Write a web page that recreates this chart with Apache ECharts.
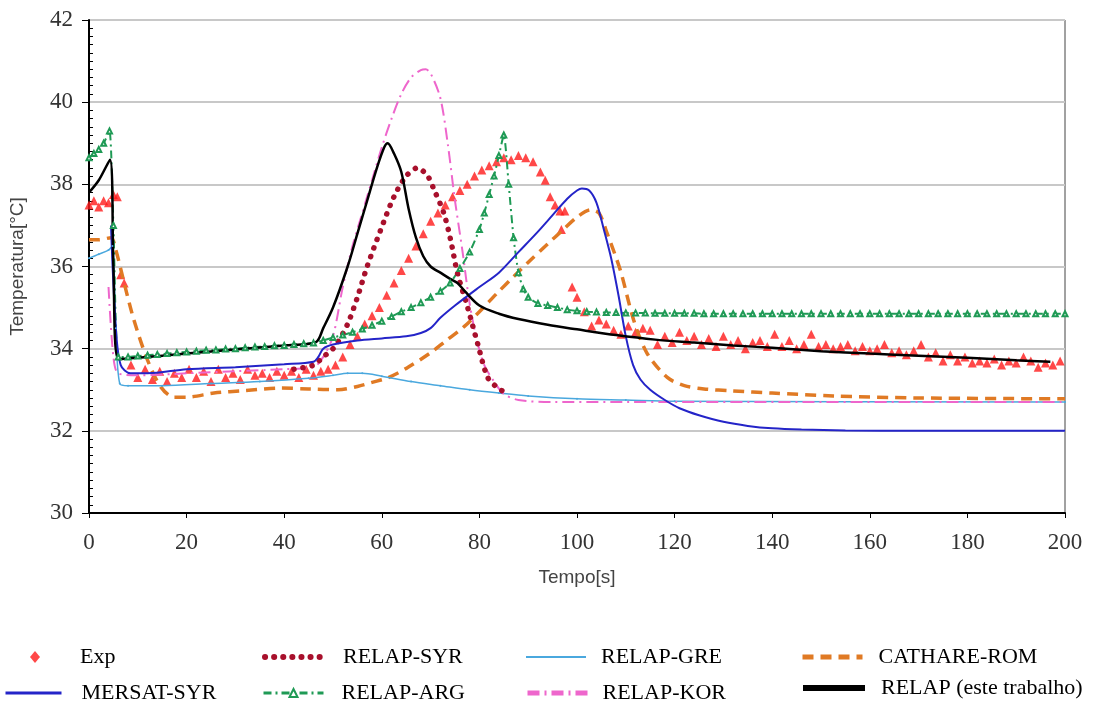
<!DOCTYPE html>
<html><head><meta charset="utf-8">
<script src="https://cdn.jsdelivr.net/npm/echarts@6/dist/echarts.min.js"></script>
<style>html,body{margin:0;padding:0;background:#fff}#c{width:1115px;height:708px}</style>
</head><body><div id="c"></div>
<script>
// ---- data: [time s, temperature °C] ----
var exp = [[0,37.5],[1,37.6],[2,37.45],[3,37.6],[4,37.55],[5,37.75],[5.8,37.7],[6.5,35.8],[7.2,35.6],[8.6,33.6],[10,33.3],[11.5,33.5],[13,33.25],[14.5,33.45],[16,33.2],[17.5,33.4],[19,33.3],[20.5,33.5],[22,33.3],[23.5,33.45],[25,33.2],[26.5,33.5],[28,33.3],[29.5,33.4],[31,33.25],[32.5,33.5],[34,33.35],[35.5,33.4],[37,33.3],[38.5,33.45],[40,33.35],[41.5,33.45],[43,33.3],[44.5,33.5],[46,33.35],[47.5,33.45],[49,33.5],[50.5,33.6],[52,33.8],[53.5,34.1],[55,34.3],[56.5,34.6],[58,34.8],[59.5,35.0],[61,35.3],[62.5,35.6],[64,35.9],[65.5,36.2],[67,36.5],[68.5,36.8],[70,37.1],[71.5,37.3],[73,37.5],[74.5,37.7],[76,37.85],[77.5,38.0],[79,38.2],[80.5,38.35],[82,38.45],[83.5,38.55],[85,38.65],[86.5,38.6],[88,38.7],[89.5,38.65],[91,38.55],[92.5,38.3],[93.5,38.1],[94.5,37.7],[95.5,37.5],[96.5,37.35],[97.5,37.35],[96.8,36.9],[99,35.5],[100,35.25],[101.5,34.9],[103,34.55],[104.5,34.7],[106,34.6],[107.5,34.45],[109,34.35],[110.5,34.55],[112,34.4],[113.5,34.5],[115,34.45],[116.5,34.1],[118,34.3],[119.5,34.15],[121,34.4],[122.5,34.2],[124,34.3],[125.5,34.1],[127,34.25],[128.5,34.05],[130,34.3],[131.5,34.1],[133,34.2],[134.5,34.0],[136,34.15],[137.5,34.2],[139,34.05],[140.5,34.35],[142,34.05],[143.5,34.2],[145,34.0],[146.5,34.1],[148,34.35],[149.5,34.05],[151,34.1],[152.5,34.0],[154,34.05],[155.5,34.1],[157,33.95],[158.5,34.05],[160,33.95],[161.5,34.0],[163,34.1],[164.5,33.9],[166,33.95],[167.5,33.85],[169,33.95],[170.5,34.1],[172,33.8],[173.5,33.9],[175,33.7],[176.5,33.85],[178,33.7],[179.5,33.8],[181,33.65],[182.5,33.7],[184,33.65],[185.5,33.75],[187,33.6],[188.5,33.7],[190,33.65],[191.5,33.8],[193,33.7],[194.5,33.55],[196,33.65],[197.5,33.6],[199,33.7]];

var mersatSyr = [[4.5,37.0],[5.5,34.5],[6.5,33.6],[8.5,33.4],[12,33.4],[20,33.5],[30,33.55],[40,33.62],[46,33.68],[47,33.8],[48,34.0],[50,34.1],[55,34.2],[60,34.25],[65,34.3],[68,34.38],[70,34.5],[72,34.75],[75,35.05],[80,35.5],[84,35.85],[88,36.35],[92,36.85],[95,37.25],[98,37.65],[100,37.85],[101,37.9],[102.5,37.85],[104,37.55],[105.5,36.9],[107,36.2],[108.5,35.3],[110,34.3],[111.5,33.6],[113,33.25],[115,33.0],[118,32.75],[121,32.55],[125,32.38],[130,32.22],[135,32.12],[140,32.06],[146,32.03],[155,32.01],[170,32.0],[200,32.0]];

var relapSyr = [[42,33.5],[46,33.6],[48,33.8],[50,34.0],[51,34.16],[53,34.6],[55,35.25],[57,36.0],[59.8,36.9],[62.5,37.7],[65,38.2],[67.3,38.4],[69.4,38.2],[70.6,37.9],[72.7,37.3],[74.1,36.65],[75.5,35.84],[77.6,35.0],[79.6,34.14],[81.7,33.3],[83.7,33.05],[85,32.95]];

var relapGre = [[0,36.2],[2,36.3],[4,36.4],[4.8,36.5],[5.5,34.5],[6.3,33.15],[8,33.1],[15,33.1],[25,33.15],[35,33.2],[45,33.28],[50,33.35],[53,33.4],[56,33.4],[60,33.33],[66,33.2],[72,33.1],[78,33.0],[84,32.92],[90,32.85],[100,32.78],[110,32.75],[120,32.72],[200,32.7]];

var cathareRom = [[0,36.65],[2,36.65],[4.5,36.7],[5.5,36.4],[7.2,35.6],[9.2,34.7],[12,33.72],[14.7,33.07],[17.4,32.82],[20,32.82],[25.6,32.92],[32,32.98],[39.3,33.04],[45,33.02],[51,33.0],[55,33.08],[58,33.18],[61.2,33.29],[65,33.52],[70,33.9],[73,34.18],[76.8,34.53],[80,34.9],[83.7,35.36],[87,35.75],[90.5,36.16],[94,36.55],[97.2,36.9],[100,37.2],[102.8,37.38],[104.5,37.3],[106.2,36.8],[108.9,35.9],[111.6,34.7],[114.3,33.9],[118.5,33.3],[122,33.1],[126,33.02],[132,32.97],[140,32.92],[152.5,32.85],[170,32.8],[200,32.78]];

var relapArg = [[0,38.65],[1,38.75],[2,38.85],[3,39.0],[4.2,39.3],[5,37.0],[6,33.8],[8,33.8],[10,33.82],[12,33.84],[14,33.86],[16,33.88],[18,33.9],[20,33.92],[22,33.94],[24,33.96],[26,33.97],[28,33.99],[30,34.0],[32,34.02],[34,34.04],[36,34.05],[38,34.07],[40,34.08],[42,34.1],[44,34.12],[46,34.14],[48,34.2],[50,34.27],[52,34.33],[54,34.4],[56,34.48],[58,34.57],[60,34.67],[62,34.78],[64,34.9],[66,35.0],[68,35.12],[70,35.25],[72,35.4],[74,35.6],[76,35.95],[78,36.35],[80,36.9],[81,37.3],[82,37.75],[83,38.2],[84,38.7],[85,39.2],[86,38.0],[87,36.7],[88,35.85],[89,35.45],[90,35.25],[92,35.1],[94,35.05],[96,35.0],[98,34.95],[100,34.92],[102,34.9],[104,34.89],[106,34.88],[108,34.88],[110,34.87],[112,34.87],[114,34.87],[116,34.86],[118,34.86],[120,34.86],[122,34.86],[124,34.86],[126,34.85],[128,34.85],[130,34.85],[132,34.85],[134,34.85],[136,34.85],[138,34.85],[140,34.85],[142,34.85],[144,34.85],[146,34.85],[148,34.85],[150,34.85],[152,34.85],[154,34.85],[156,34.85],[158,34.85],[160,34.85],[162,34.85],[164,34.85],[166,34.85],[168,34.85],[170,34.85],[172,34.85],[174,34.85],[176,34.85],[178,34.85],[180,34.85],[182,34.85],[184,34.85],[186,34.85],[188,34.85],[190,34.85],[192,34.85],[194,34.85],[196,34.85],[198,34.85],[200,34.85]];

var relapKor = [[4,35.5],[5,33.8],[6,33.4],[10,33.35],[20,33.4],[30,33.45],[40,33.5],[46,33.55],[48,33.8],[50,34.3],[52,35.5],[54,36.5],[56,37.3],[58,38.1],[60,38.9],[62,39.6],[64,40.2],[66,40.6],[68,40.78],[69,40.8],[70,40.7],[72,40.1],[73.5,39.0],[75,37.6],[76.5,36.4],[78,35.1],[79.5,34.2],[81,33.6],[83,33.2],[85,32.9],[88,32.75],[95,32.7],[200,32.7]];

var relapEste = [[0,37.8],[2,38.1],[4.3,38.6],[5,36.0],[6,33.75],[10,33.78],[20,33.88],[30,33.98],[40,34.08],[46.5,34.16],[48,34.5],[50,35.0],[53,36.0],[55,36.8],[57,37.6],[59,38.4],[60.5,38.9],[61.2,39.0],[62.5,38.75],[64,38.3],[65.5,37.4],[67,36.7],[68.5,36.25],[70,36.0],[72,35.85],[74,35.7],[75.5,35.6],[77,35.4],[80,35.05],[84,34.85],[88,34.72],[94,34.58],[100,34.47],[108,34.33],[116,34.22],[124,34.15],[132,34.08],[140,34.02],[150,33.94],[160,33.88],[170,33.83],[180,33.78],[190,33.72],[197,33.68]];

var xAxisTitle = 'Tempo[s]';
var yAxisTitle = 'Temperatura[°C]';

// ---- chart ----
var chart = echarts.init(document.getElementById('c'), null, {renderer:'canvas'});
var serif = 'Liberation Serif';
var sans = 'Liberation Sans';
var hideSym = {opacity: 0};

function leg(name, left, top, w, pad, extra) {
  var o = {
    data: [name], left: left, top: top, orient: 'horizontal', padding: 0,
    itemWidth: w, itemHeight: 14, selectedMode: false,
    textStyle: {fontFamily: serif, fontSize: 22, color: '#000', padding: [0,0,0,pad]}
  };
  for (var k in extra) o[k] = extra[k];
  return o;
}

var option = {
  backgroundColor: '#fff',
  animation: false,
  grid: {left: 88, right: 50, top: 20, bottom: 195, show: true, borderColor: '#444', borderWidth: 1},
  legend: [
    leg({name:'Exp', icon:'diamond'}, 30, 646, 10, 35, {itemHeight: 12}),
    leg('RELAP-SYR', 262, 646, 60, 13, {lineStyle:{width:6}, itemStyle: hideSym}),
    leg('RELAP-GRE', 525, 646, 60, 10, {lineStyle:{width:2}, itemStyle: hideSym}),
    leg('CATHARE-ROM', 800, 646, 60, 11, {lineStyle:{width:5}, itemStyle: hideSym}),
    leg('MERSAT-SYR', 4, 682, 56, 15, {lineStyle:{width:3}, itemStyle: hideSym}),
    leg('RELAP-ARG', 262, 682, 60, 13, {lineStyle:{width:3}, itemHeight: 10}),
    leg('RELAP-KOR', 525, 682, 60, 10, {lineStyle:{width:5}, itemStyle: hideSym}),
    leg('RELAP (este trabalho)', 800, 677, 62, 11, {lineStyle:{width:6}, itemStyle: hideSym})
  ],
  xAxis: {
    type: 'value', min: 0, max: 200, interval: 20,
    name: xAxisTitle, nameLocation: 'middle', nameGap: 55,
    nameTextStyle: {fontFamily: sans, fontSize: 19, color: '#444'},
    axisLine: {show: true, onZero: false, lineStyle: {color: '#000', width: 2}},
    axisTick: {show: true, length: 5, lineStyle: {color: '#000'}},
    axisLabel: {fontFamily: serif, fontSize: 23, color: '#333', margin: 18},
    splitLine: {show: false}
  },
  yAxis: [{
    type: 'value', min: 30, max: 42, interval: 2,
    name: yAxisTitle, nameLocation: 'middle', nameGap: 62, nameRotate: 90,
    nameTextStyle: {fontFamily: sans, fontSize: 19, color: '#444'},
    axisLine: {show: true, onZero: false, lineStyle: {color: '#000', width: 2}},
    axisTick: {show: true, length: 7, lineStyle: {color: '#000'}},
    axisLabel: {fontFamily: serif, fontSize: 23, color: '#333', margin: 16},
    splitLine: {show: true, lineStyle: {color: '#c8c8c8', width: 2}}
  }, {
    type: 'value', min: 30, max: 42, interval: 2, position: 'left',
    axisLine: {show: false}, axisLabel: {show: false}, splitLine: {show: false},
    axisTick: {show: false, inside: true},
    minorTick: {show: true, splitNumber: 10, length: 4, lineStyle: {color: '#000', width: 1}}
  }],
  series: [
    {name: 'CATHARE-ROM', type: 'line', data: cathareRom, symbol: 'none', smooth: 0.3,
     itemStyle: {color: '#e07a24'}, lineStyle: {color: '#e07a24', width: 3.5, type: [11, 7]}},
    {name: 'RELAP-GRE', type: 'line', data: relapGre, symbol: 'circle', symbolSize: 2, smooth: 0.3,
     itemStyle: {color: '#4aa8de'}, lineStyle: {color: '#4aa8de', width: 1.5}},
    {name: 'RELAP-KOR', type: 'line', data: relapKor, symbol: 'none', smooth: 0.3,
     itemStyle: {color: '#ee66cc'}, lineStyle: {color: '#ee66cc', width: 2, type: [12, 5, 2, 5]}},
    {name: 'RELAP-ARG', type: 'line', data: relapArg, symbol: 'emptyTriangle', symbolSize: 5, smooth: 0.2,
     itemStyle: {color: '#1f9a55', borderWidth: 1}, lineStyle: {color: '#1f9a55', width: 2, type: [8, 4, 2, 4]}},
    {name: 'RELAP-SYR', type: 'line', data: relapSyr, symbol: 'none', smooth: 0.3,
     itemStyle: {color: '#a8102c'}, lineStyle: {color: '#a8102c', width: 5.5, type: [0.1, 9], cap: 'round'}},
    {name: 'MERSAT-SYR', type: 'line', data: mersatSyr, symbol: 'none', smooth: 0.3,
     itemStyle: {color: '#2424c8'}, lineStyle: {color: '#2424c8', width: 2}},
    {name: 'Exp', type: 'scatter', data: exp, symbol: 'triangle', symbolSize: 9,
     itemStyle: {color: '#ff1a1a'}},
    {name: 'RELAP (este trabalho)', type: 'line', data: relapEste, symbol: 'none', smooth: 0.3,
     itemStyle: {color: '#000'}, lineStyle: {color: '#000', width: 2.5}}
  ]
};
chart.setOption(option);
</script></body></html>
